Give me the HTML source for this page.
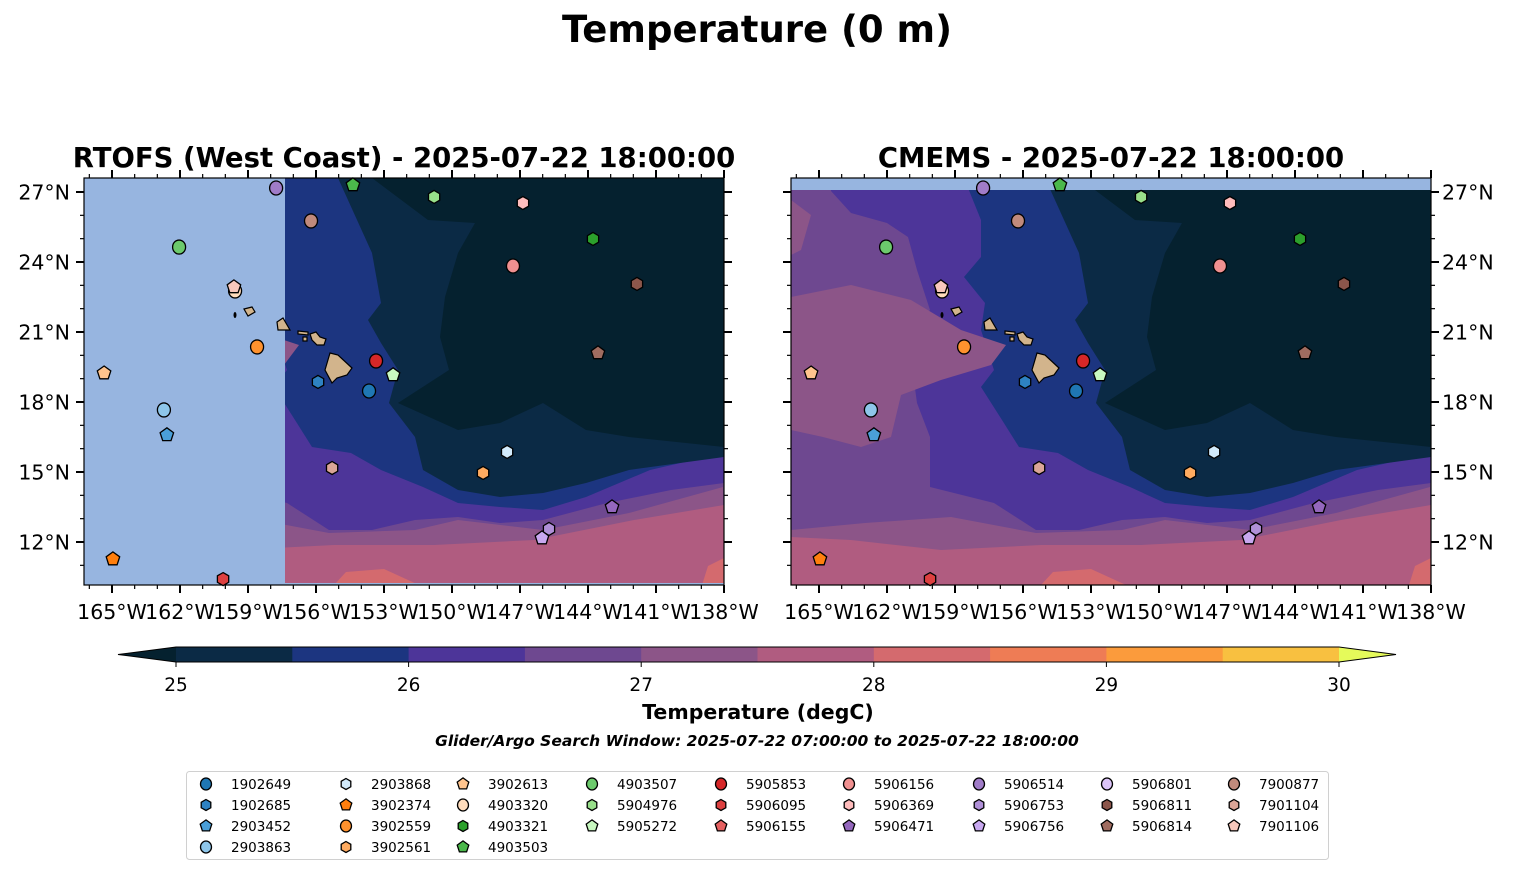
<!DOCTYPE html>
<html><head><meta charset="utf-8"><style>
html,body{margin:0;padding:0;background:#fff;}
svg{display:block;font-family:"DejaVu Sans","Liberation Sans",sans-serif;}
</style></head><body>
<svg id="fig" width="1514" height="889" viewBox="0 0 1514 889" xmlns="http://www.w3.org/2000/svg">
<defs>
<clipPath id="clipL"><rect x="285" y="178" width="439" height="405"/></clipPath>
<clipPath id="clipR"><rect x="791" y="190" width="640" height="395"/></clipPath>
</defs>
<text x="757" y="42" text-anchor="middle" font-size="37" font-weight="bold">Temperature (0 m)</text>
<text x="404" y="167" text-anchor="middle" font-size="27.5" font-weight="bold">RTOFS (West Coast) - 2025-07-22 18:00:00</text>
<text x="1111" y="167" text-anchor="middle" font-size="27.5" font-weight="bold">CMEMS - 2025-07-22 18:00:00</text>
<g id="panels"></g>
<g id="cbar"></g>
<text x="758" y="719" text-anchor="middle" font-size="20.5" font-weight="bold">Temperature (degC)</text>
<text x="757" y="746" text-anchor="middle" font-size="15.5" font-weight="bold" font-style="italic">Glider/Argo Search Window: 2025-07-22 07:00:00 to 2025-07-22 18:00:00</text>
<g id="legend">
<rect x="186.5" y="771.5" width="1142" height="88" rx="3" fill="#fff" stroke="#d0d0d0" stroke-width="1"/>
</g>
</svg>
<script>
// ---- data ----
const floatIds = ["1902649","1902685","2903452","2903863","2903868","3902374","3902559","3902561","3902613","4903320","4903321","4903503","4903507","5904976","5905272","5905853","5906095","5906155","5906156","5906369","5906471","5906514","5906753","5906756","5906801","5906811","5906814","7900877","7901104","7901106"];
const floatLonW = [153.66,155.91,162.58,162.71,147.57,164.96,158.6,148.63,165.35,159.57,143.78,154.37,162.04,150.79,152.6,153.35,160.1,null,147.31,146.87,142.94,157.76,145.72,146.03,null,141.84,143.56,156.22,155.29,159.62];
const floatLatN = [18.47,18.86,16.59,17.66,15.86,11.27,20.36,14.96,19.24,22.76,24.99,27.3,24.64,26.79,19.16,19.76,10.41,null,23.83,26.53,13.5,27.17,12.56,12.17,null,23.06,20.1,25.76,15.17,22.93];
const lonTicks = [165,162,159,156,153,150,147,144,141,138];
const latTicks = [12,15,18,21,24,27];
const cbarLevels = [25,25.5,26,26.5,27,27.5,28,28.5,29,29.5,30];
const cbarTickLabels = [25,26,27,28,29,30];

const markerColors = ["#1f77b4","#2e82c2","#4a9fd8","#8ec6ea","#d2eafb","#ff7f0e","#ff922e","#ffab60","#ffc48e","#ffdcbc","#2ca02c","#4bb84b","#6cca6c","#98df8a","#c8f8c0","#d62728","#dd4040","#e56060","#f09090","#ffbcbc","#9467bd","#a07cc8","#b090d8","#c8a8f0","#dcc4f8","#8c564b","#a06c60","#c08a7c","#daa597","#f8c8bc"];
const markerShapes = ["o","h","p","o","h","p","o","h","p","o","h","p","o","h","p","o","h","p","o","h","p","o","h","p","o","h","p","o","h","p"];
const cbarColors = ["#0b2a45","#1c3580","#4d3599","#6e4890","#8c5588","#b05c80","#d46a6e","#ee7c55","#fb9b3c","#f8c040"];

const NS="http://www.w3.org/2000/svg";
function el(tag,attrs,parent){const e=document.createElementNS(NS,tag);for(const k in attrs)e.setAttribute(k,attrs[k]);if(parent)parent.appendChild(e);return e;}

const PW=640, PTOP=178, PBOT=585;
const pxPerDeg=68/3, pyPerDeg=350/15;
function xScale(lonW,x0){return x0+PW-(lonW-138)*pxPerDeg;}
function yScale(lat){return 192-(lat-27)*pyPerDeg;}

function shape(type,cx,cy,r,fill,parent){
  if(type==="o") return el("ellipse",{cx:cx,cy:cy,rx:r,ry:r+0.5,fill:fill,stroke:"#000","stroke-width":1.3},parent);
  const n=type==="h"?6:5; const pts=[];
  const rr=type==="h"?r:r+0.6;
  for(let i=0;i<n;i++){const a=-Math.PI/2+i*2*Math.PI/n;pts.push((cx+rr*Math.cos(a)).toFixed(1)+","+(cy+rr*Math.sin(a)).toFixed(1));}
  return el("polygon",{points:pts.join(" "),fill:fill,stroke:"#000","stroke-width":1.3},parent);
}

// field layers (relative x to panel left, absolute y)
const layers=[
 ["#8c5588",[[0,530],[74,523],[160,517],[245,533],[331,530],[374,520],[459,530],[545,513],[639,487],[640,585],[0,585]]],
 ["#b05c80",[[0,537],[60,540],[150,550],[250,545],[350,545],[450,540],[550,520],[640,505],[640,585],[0,585]]],
 ["#d46a6e",[[250,585],[262,572],[300,569],[335,585]]],
 ["#d46a6e",[[618,585],[624,566],[640,558],[640,585]]],
 ["#4d3599",[[40,191],[60,213],[96,223],[117,237],[126,270],[139,310],[117,337],[126,403],[139,437],[139,487],[203,503],[245,530],[288,530],[331,520],[374,517],[416,523],[459,520],[523,503],[587,490],[640,483],[640,178],[40,178]]],
 ["#1c3580",[[173,178],[190,220],[190,257],[173,277],[194,303],[190,330],[203,370],[190,387],[211,420],[228,447],[267,453],[297,470],[339,487],[374,503],[416,507],[459,510],[502,497],[566,470],[640,453],[640,178]]],
 ["#0b2a45",[[254,178],[288,253],[297,303],[284,320],[297,343],[314,370],[305,403],[331,437],[339,470],[374,490],[416,497],[459,493],[502,483],[545,470],[640,457],[640,178]]],
 ["#05212f",[[288,178],[344,220],[391,223],[374,253],[361,297],[356,337],[365,370],[314,403],[374,430],[416,423],[459,403],[502,430],[545,437],[640,447],[640,178]]],
 ["#8c5588",[[0,297],[60,285],[120,300],[170,330],[215,345],[200,365],[150,380],[110,395],[100,437],[70,447],[32,437],[0,430]]],
 ["#8c5588",[[0,200],[20,215],[10,250],[0,255]]]
];
const islands=[
 [[246,353],[254,355],[268,368],[263,375],[253,378],[248,383],[241,370]],
 [[226,334],[232,332],[236,337],[242,339],[240,345],[233,345],[228,340]],
 [[214,331],[224,332],[224,335],[214,334]],
 [[193,322],[199,318],[206,330],[194,330]],
 [[160,309],[168,307],[171,312],[164,316]],
 [[219,337],[223,337],[223,341],[219,341]]
];

const panels=document.getElementById("panels");
[[84,"rtofs"],[791,"cmems"]].forEach(([x0,nm],pi)=>{
  const g=el("g",{},panels);
  
  
  el("rect",{x:x0,y:PTOP,width:PW,height:PBOT-PTOP,fill:"#97b5e0"},g);
  const fg=el("g",{"clip-path":pi===0?"url(#clipL)":"url(#clipR)"},g);
  
  
  if(pi===1) el("rect",{x:x0,y:190,width:PW,height:395,fill:"#6e4890"},fg);
  else el("rect",{x:x0,y:PTOP,width:PW,height:PBOT-PTOP,fill:"#6e4890"},fg);
  layers.forEach(([c,pts])=>{el("polygon",{points:pts.map(p=>(p[0]+x0)+","+p[1]).join(" "),fill:c},fg);});
  islands.forEach((pts,i)=>{
    const p=el("polygon",{points:pts.map(q=>(q[0]+x0)+","+q[1]).join(" "),fill:"#d2b48c",stroke:"#000","stroke-width":1.2},g);
    
    
  });
  el("ellipse",{cx:x0+151,cy:315,rx:1.5,ry:3,fill:"#000"},g);
  el("rect",{x:x0,y:PTOP,width:PW,height:PBOT-PTOP,fill:"none",stroke:"#000","stroke-width":1.2},g);
  for(let lon=138;lon<=166;lon++){
    const x=xScale(lon,x0); if(x<x0-0.5) continue;
    const major=lonTicks.includes(lon);
    const L=major?8:4, w=major?2:1.2;
    el("line",{x1:x,y1:PBOT,x2:x,y2:PBOT+L,stroke:"#000","stroke-width":w},g);
    el("line",{x1:x,y1:PTOP,x2:x,y2:PTOP-L,stroke:"#000","stroke-width":w},g);
  }
  for(let lat=11;lat<=27;lat++){
    const y=yScale(lat);
    const major=latTicks.includes(lat);
    const L=major?8:4, w=major?2:1.2;
    el("line",{x1:x0,y1:y,x2:x0-L,y2:y,stroke:"#000","stroke-width":w},g);
    el("line",{x1:x0+PW,y1:y,x2:x0+PW+L,y2:y,stroke:"#000","stroke-width":w},g);
  }
  lonTicks.forEach(lon=>{
    const t=el("text",{x:xScale(lon,x0),y:619,"text-anchor":"middle","font-size":20.5},g);
    t.textContent=lon+"°W";
    
    
  });
  latTicks.forEach(lat=>{
    const t=el("text",{x:pi===0?x0-14:x0+PW+11,y:yScale(lat)+7.5,"text-anchor":pi===0?"end":"start","font-size":20.5},g);
    t.textContent=lat+"°N";
    
    
  });
  floatIds.forEach((id,i)=>{
    if(floatLonW[i]===null) return;
    const m=shape(markerShapes[i],xScale(floatLonW[i],x0),yScale(floatLatN[i]),6.5,markerColors[i],g);
    
    
  });
});

// colorbar
const cb=document.getElementById("cbar");
const cbX0=176, cbX1=1339, cbY=647, cbH=15;
function cbx(v){return cbX0+(v-25)/5*(cbX1-cbX0);}
for(let i=0;i<cbarLevels.length-1;i++){
  const r=el("rect",{x:cbx(cbarLevels[i]),y:cbY,width:cbx(cbarLevels[i+1])-cbx(cbarLevels[i])+0.5,height:cbH,fill:cbarColors[i]},cb);
  
  
}
el("polygon",{points:`${cbX0},${cbY} 118,${cbY+cbH/2} ${cbX0},${cbY+cbH}`,fill:"#05212f"},cb);
el("polygon",{points:`${cbX1},${cbY} 1396,${cbY+cbH/2} ${cbX1},${cbY+cbH}`,fill:"#e5fa5a"},cb);
el("polygon",{points:`118,${cbY+cbH/2} ${cbX0},${cbY} ${cbX1},${cbY} 1396,${cbY+cbH/2} ${cbX1},${cbY+cbH} ${cbX0},${cbY+cbH}`,fill:"none",stroke:"#000","stroke-width":1},cb);
cbarTickLabels.forEach(v=>{
  el("line",{x1:cbx(v),y1:cbY+cbH,x2:cbx(v),y2:cbY+cbH+5,stroke:"#000","stroke-width":1},cb);
  const t=el("text",{x:cbx(v),y:691,"text-anchor":"middle","font-size":18.5},cb);
  t.textContent=v;
  
  
});

// legend
const lg=document.getElementById("legend");
const colMX=[206,346,463,592,721,849,979,1107,1234];
floatIds.forEach((id,i)=>{
  let col,row;
  if(i<4){col=0;row=i;} else if(i<8){col=1;row=i-4;} else if(i<12){col=2;row=i-8;}
  else {const j=i-12; col=3+Math.floor(j/3); row=j%3;}
  const y=784+row*21;
  const g=el("g",{},lg);
  
  
  shape(markerShapes[i],colMX[col],y,5.5,markerColors[i],g);
  const t=el("text",{x:colMX[col]+25,y:y+5,"font-size":13.5},g);
  t.textContent=id;
});
</script>
</body></html>
